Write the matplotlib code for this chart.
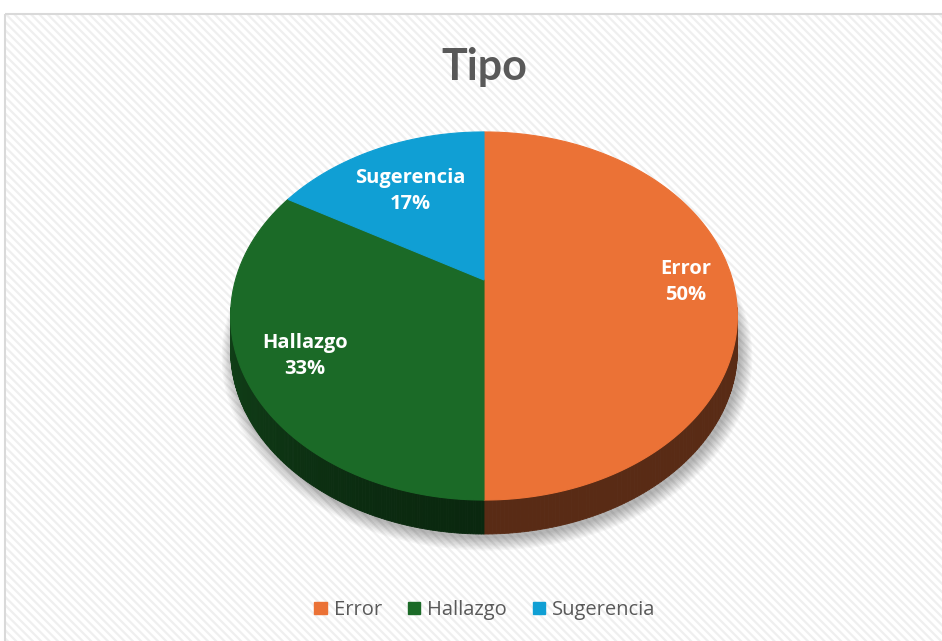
import numpy as np
import matplotlib
matplotlib.use("Agg")
import matplotlib.pyplot as plt
from matplotlib.patches import Polygon, Rectangle, Patch

# 数据
categories = ["Error", "Hallazgo", "Sugerencia"]
counts = [3, 2, 1]
colors = ["#EB7236", "#1B6A27", "#109FD4"]

plt.rcParams["font.family"] = ["Open Sans", "DejaVu Sans"]
plt.rcParams["hatch.linewidth"] = 1.6

# 3D 饼图的几何参数 (像素坐标)
CX, CY = 484, 280       # 中心
A, B = 248.5, 177       # 半轴
K = 0.1956              # 透视强度
DEPTH = 34              # 厚度
label_r = [0.81, 0.77, 0.66]


def proj(phi, r=1.0, dz=0.0):
    """平面上的点 -> 屏幕坐标 (带透视)"""
    s, c = np.sin(phi), np.cos(phi)
    den = 1 + K * r * s
    return CX + A * r * c / den, CY - B * r * s / den + dz


def shade(hex_color, f):
    rgb = np.array(matplotlib.colors.to_rgb(hex_color))
    return tuple(rgb * f)


fig = plt.figure(figsize=(9.42, 6.41), dpi=100)
ax = fig.add_axes([0, 0, 1, 1])
ax.set_xlim(0, 942)
ax.set_ylim(641, 0)
ax.axis("off")

# 图表区背景 (斜纹) 和边框
ax.add_patch(Rectangle((5, 14), 960, 660, facecolor="white", edgecolor="#EFEFEF",
                       hatch="\\\\\\\\", lw=0, zorder=0))
ax.add_patch(Rectangle((5, 14), 960, 660, facecolor="none", edgecolor="#D9D9D9",
                       lw=1.5, zorder=1))

total = sum(counts)
fracs = [v / total for v in counts]
starts = np.pi / 2 - 2 * np.pi * np.concatenate([[0], np.cumsum(fracs)[:-1]])
ends = starts - 2 * np.pi * np.array(fracs)

# 阴影
phis = np.linspace(0, 2 * np.pi, 361)
for i in range(10):
    grow = 1 + 0.005 * i
    xs, ys = proj(phis, grow, DEPTH + 4)
    ax.add_patch(Polygon(np.column_stack([xs + 3, ys]), closed=True,
                         facecolor="black", alpha=0.03, lw=0, zorder=2))

# 侧面 (只画前半部分)
for st, en, col in zip(starts, ends, colors):
    ph = np.linspace(st, en, 240)
    for p0, p1 in zip(ph[:-1], ph[1:]):
        pm = (p0 + p1) / 2
        if np.sin(pm) > -0.15:
            continue
        x0, y0 = proj(p0)
        x1, y1 = proj(p1)
        f = 0.38 + 0.22 * max(0.0, -np.cos(pm)) ** 2
        quad = [(x0, y0), (x1, y1), (x1, y1 + DEPTH), (x0, y0 + DEPTH)]
        ax.add_patch(Polygon(quad, closed=True, facecolor=shade(col, f),
                             edgecolor=shade(col, f), lw=0.6, zorder=3))

# 顶面
for st, en, col in zip(starts, ends, colors):
    ph = np.linspace(st, en, 240)
    xs, ys = proj(ph)
    pts = np.vstack([[CX, CY], np.column_stack([xs, ys])])
    ax.add_patch(Polygon(pts, closed=True, facecolor=col, edgecolor=col,
                         lw=0.8, zorder=4))

# 数据标签
for name, frac, st, en, r in zip(categories, fracs, starts, ends, label_r):
    lx, ly = proj((st + en) / 2, r)
    ax.text(lx, ly + 2, f"{name}\n{round(frac * 100)}%", ha="center", va="center",
            color="white", fontsize=14.5, fontweight="bold", linespacing=1.38,
            zorder=5)

# 标题
ax.text(484, 67, "Tipo", ha="center", va="center", fontsize=31,
        fontweight="bold", color="#595959", family=["Lato", "DejaVu Sans"], zorder=5)

# 图例
handles = [Patch(facecolor=c, edgecolor=c) for c in colors]
fig.legend(handles, categories, loc="center", bbox_to_anchor=(485 / 942, 1 - 610 / 641),
           ncol=3, frameon=False, fontsize=14.5, labelcolor="#595959",
           handlelength=0.6, handleheight=0.6, handletextpad=0.35,
           columnspacing=1.3)

plt.savefig("out.png", dpi=100)
